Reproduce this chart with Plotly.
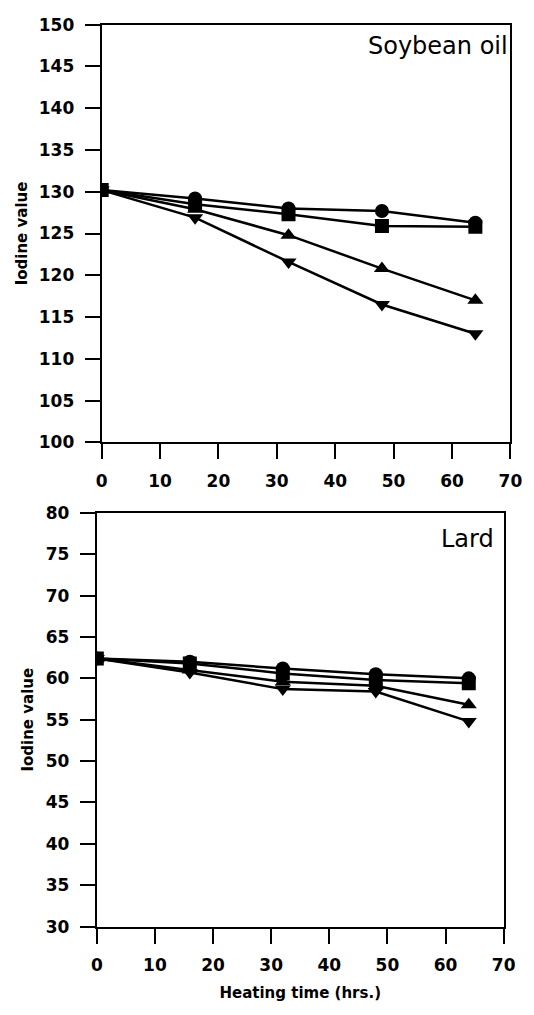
import plotly.graph_objects as go

time_hrs = [0, 16, 32, 48, 64]

soy_circle = [130.2, 129.2, 128.0, 127.7, 126.3]
soy_square = [130.2, 128.5, 127.3, 125.9, 125.8]
soy_up = [130.2, 127.9, 124.8, 120.8, 117.0]
soy_down = [130.2, 126.9, 121.6, 116.5, 113.0]

lard_circle = [62.4, 62.0, 61.2, 60.5, 60.0]
lard_square = [62.4, 61.8, 60.6, 59.8, 59.4]
lard_up = [62.4, 61.0, 59.6, 59.1, 56.8]
lard_down = [62.4, 60.7, 58.7, 58.4, 54.8]

soy_yticks = list(range(100, 151, 5))
lard_yticks = list(range(30, 81, 5))
xticks = list(range(0, 71, 10))

W, H = 534, 1015
FONT = "DejaVu Sans"

fig = go.Figure()

series = [
    ("circle", "circle"),
    ("square", "square"),
    ("up", "triangle-up"),
    ("down", "triangle-down"),
]
soy = {"circle": soy_circle, "square": soy_square, "up": soy_up, "down": soy_down}
lard = {"circle": lard_circle, "square": lard_square, "up": lard_up, "down": lard_down}

for key, sym in series:
    fig.add_trace(go.Scatter(x=time_hrs, y=soy[key], mode="lines+markers",
                             line=dict(color="black", width=2.5),
                             marker=dict(symbol=sym, size=14, color="black"),
                             xaxis="x", yaxis="y", showlegend=False))
for key, sym in series:
    fig.add_trace(go.Scatter(x=time_hrs, y=lard[key], mode="lines+markers",
                             line=dict(color="black", width=2.5),
                             marker=dict(symbol=sym, size=14, color="black"),
                             xaxis="x2", yaxis="y2", showlegend=False))

tickfont = dict(family=FONT, size=17, color="black", weight="bold")
titlefont = dict(family=FONT, size=15, color="black", weight="bold")

def ax(**kw):
    d = dict(showline=True, linecolor="black", linewidth=2, mirror=True,
             ticks="outside", ticklen=15, tickwidth=1.5, tickcolor="black",
             showgrid=False, zeroline=False, tickfont=tickfont,
             ticklabelstandoff=7)
    d.update(kw)
    return d

fig.update_layout(
    width=W, height=H,
    margin=dict(l=0, r=0, t=0, b=0),
    paper_bgcolor="white", plot_bgcolor="white",
    xaxis=ax(domain=[99 / W, 522 / W], range=[0, 70], tickvals=xticks,
             anchor="y"),
    yaxis=ax(domain=[1 - 441 / H, 1 - 15 / H], range=[100, 150],
             tickvals=soy_yticks, anchor="x",
             title=dict(text="Iodine value", font=titlefont, standoff=8)),
    xaxis2=ax(domain=[94 / W, 515 / W], range=[0, 70], tickvals=xticks,
              anchor="y2",
              title=dict(text="Heating time (hrs.)", font=titlefont, standoff=14)),
    yaxis2=ax(domain=[1 - 935 / H, 1 - 513 / H], range=[30, 80],
              tickvals=lard_yticks, anchor="x2",
              title=dict(text="Iodine value", font=titlefont, standoff=8)),
    annotations=[
        dict(text="Soybean oil", x=522 / W, y=1 - 37 / H, xref="paper", yref="paper",
             xanchor="right", yanchor="middle", showarrow=False,
             font=dict(family=FONT, size=24, color="black")),
        dict(text="Lard", x=507 / W, y=1 - 540 / H, xref="paper", yref="paper",
             xanchor="right", yanchor="middle", showarrow=False,
             font=dict(family=FONT, size=24, color="black")),
    ],
)

fig.write_html("out.html")
